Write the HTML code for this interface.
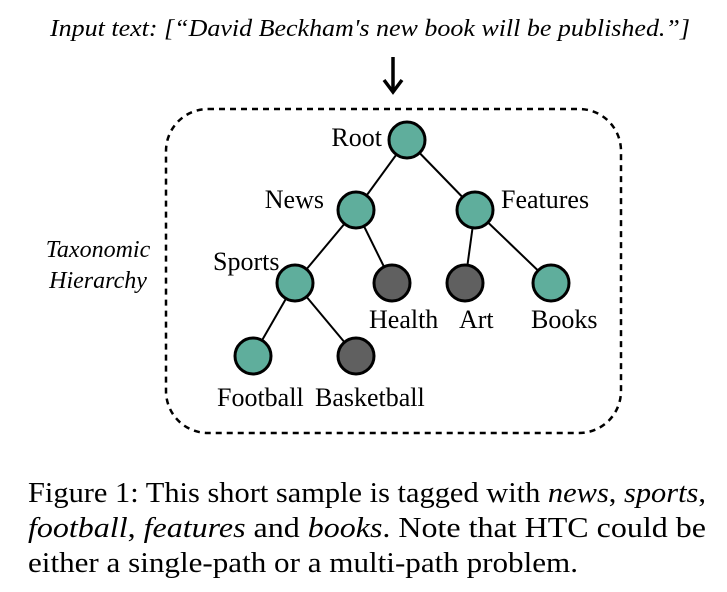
<!DOCTYPE html>
<html><head><meta charset="utf-8"><style>
html,body{margin:0;padding:0;background:#fff;}
svg{display:block;font-family:"Liberation Serif",serif;}
</style></head><body>
<svg width="727" height="592" viewBox="0 0 727 592">
<text x="370" y="36" font-size="24" font-style="italic" text-anchor="middle" textLength="640" lengthAdjust="spacingAndGlyphs">Input text: [“David Beckham's new book will be published.”]</text>
<g stroke="#000" stroke-width="3.5" fill="none">
<line x1="393" y1="57" x2="393" y2="91"/>
<polyline points="384,80 393,92 402,80"/>
</g>
<rect x="166" y="109" width="455" height="324" rx="42" ry="42" fill="none" stroke="#000" stroke-width="2.5" stroke-dasharray="6,5"/>
<text x="98" y="257" font-size="24" font-style="italic" text-anchor="middle">Taxonomic</text>
<text x="98" y="288" font-size="24" font-style="italic" text-anchor="middle">Hierarchy</text>
<g stroke="#000" stroke-width="2">
<line x1="407" y1="140" x2="356" y2="210"/>
<line x1="407" y1="140" x2="475" y2="210"/>
<line x1="356" y1="210" x2="295" y2="283"/>
<line x1="356" y1="210" x2="392" y2="283"/>
<line x1="475" y1="210" x2="465" y2="283"/>
<line x1="475" y1="210" x2="551" y2="283"/>
<line x1="295" y1="283" x2="253" y2="356"/>
<line x1="295" y1="283" x2="356" y2="356"/>
</g>
<g stroke="#000" stroke-width="3">
<circle cx="407" cy="140" r="18" fill="#5fae9c"/>
<circle cx="356" cy="210" r="18" fill="#5fae9c"/>
<circle cx="475" cy="210" r="18" fill="#5fae9c"/>
<circle cx="295" cy="283" r="18" fill="#5fae9c"/>
<circle cx="392" cy="283" r="18" fill="#606060"/>
<circle cx="465" cy="283" r="18" fill="#606060"/>
<circle cx="551" cy="283" r="18" fill="#5fae9c"/>
<circle cx="253" cy="356" r="18" fill="#5fae9c"/>
<circle cx="356" cy="356" r="18" fill="#606060"/>
</g>
<g font-size="26">
<text x="382" y="146" text-anchor="end">Root</text>
<text x="324" y="208" text-anchor="end">News</text>
<text x="501" y="208">Features</text>
<text x="213" y="270">Sports</text>
<text x="369" y="328">Health</text>
<text x="459" y="328">Art</text>
<text x="531" y="328">Books</text>
<text x="217" y="406">Football</text>
<text x="315" y="406">Basketball</text>
</g>
<g font-size="28">
<text x="28" y="502" textLength="678" lengthAdjust="spacingAndGlyphs">Figure 1: This short sample is tagged with <tspan font-style="italic">news</tspan>, <tspan font-style="italic">sports</tspan>,</text>
<text x="28" y="537" textLength="678" lengthAdjust="spacingAndGlyphs"><tspan font-style="italic">football</tspan>, <tspan font-style="italic">features</tspan> and <tspan font-style="italic">books</tspan>.  Note that HTC could be</text>
<text x="28" y="572" textLength="550" lengthAdjust="spacingAndGlyphs">either a single-path or a multi-path problem.</text>
</g>
</svg>
</body></html>
